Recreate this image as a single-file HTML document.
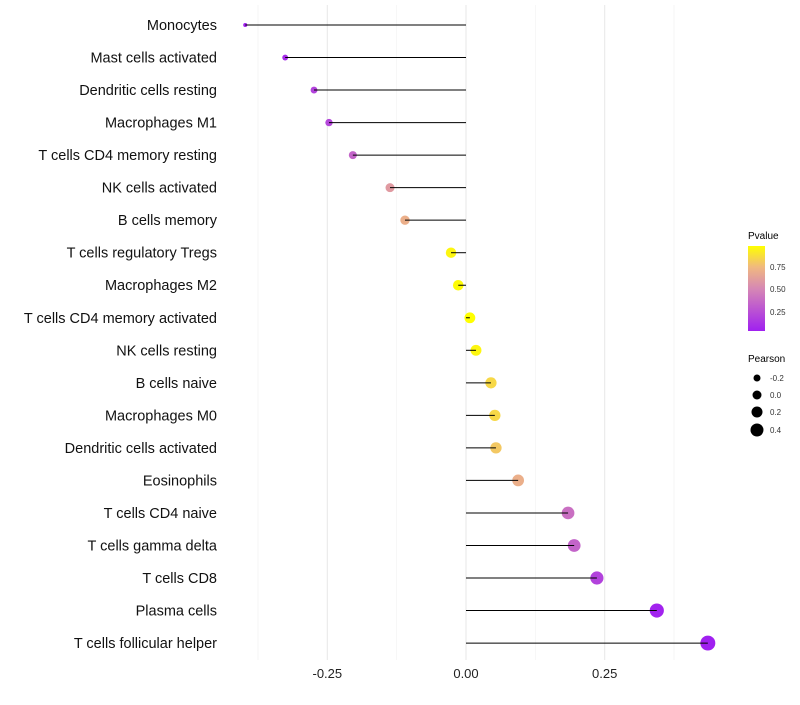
<!DOCTYPE html>
<html><head><meta charset="utf-8"><style>
body{margin:0;background:#fff;font-family:"Liberation Sans",sans-serif}
</style></head><body>
<svg id="c" width="800" height="700" xmlns="http://www.w3.org/2000/svg">
<defs><linearGradient id="pg" x1="0" y1="1" x2="0" y2="0">
<stop offset="0" stop-color="#A020F0"/><stop offset="0.5" stop-color="#D688B4"/><stop offset="0.75" stop-color="#F0B880"/><stop offset="1" stop-color="#FFFF00"/></linearGradient></defs>
<g id="grid"></g><g id="dots"></g><g id="marks"></g><g id="labels"></g>
<g>
<text x="748" y="239" font-size="10" fill="#000">Pvalue</text>
<rect x="748" y="246" width="17" height="85" fill="url(#pg)"/>
<text x="770" y="270" font-size="8" fill="#333">0.75</text>
<text x="770" y="292" font-size="8" fill="#333">0.50</text>
<text x="770" y="315" font-size="8" fill="#333">0.25</text>
</g>
<g>
<text x="748" y="362" font-size="10" fill="#000">Pearson</text>
<circle cx="757" cy="378" r="3.5"/><text x="770" y="381" font-size="8" fill="#333">-0.2</text>
<circle cx="757" cy="395" r="4.5"/><text x="770" y="398" font-size="8" fill="#333">0.0</text>
<circle cx="757" cy="412" r="5.5"/><text x="770" y="415" font-size="8" fill="#333">0.2</text>
<circle cx="757" cy="430" r="6.5"/><text x="770" y="433" font-size="8" fill="#333">0.4</text>
</g>
</svg>
<script>
const categories=["Monocytes","Mast cells activated","Dendritic cells resting","Macrophages M1","T cells CD4 memory resting","NK cells activated","B cells memory","T cells regulatory  Tregs","Macrophages M2","T cells CD4 memory activated","NK cells resting","B cells naive","Macrophages M0","Dendritic cells activated","Eosinophils","T cells CD4 naive","T cells gamma delta","T cells CD8","Plasma cells","T cells follicular helper"];
const pearson=[-0.398,-0.326,-0.274,-0.247,-0.204,-0.137,-0.110,-0.027,-0.014,0.007,0.018,0.045,0.052,0.054,0.094,0.184,0.195,0.236,0.344,0.436];
const pvalue=[0.05,0.1,0.2,0.22,0.35,0.6,0.7,0.95,0.97,0.98,0.95,0.85,0.85,0.8,0.7,0.4,0.35,0.2,0.06,0.02];
const ticks=[-0.25,0,0.25];
const tickLabels=["-0.25","0.00","0.25"];
const NS="http://www.w3.org/2000/svg";
const x=v=>466+v*554.67;
const y=i=>25+i*32.53;
function el(t,a,p){const e=document.createElementNS(NS,t);for(const k in a)e.setAttribute(k,a[k]);document.getElementById(p).appendChild(e);return e;}
function lerp(a,b,t){return a.map((v,i)=>Math.round(v+(b[i]-v)*t));}
function col(p){const s=[[0,[160,32,240]],[0.5,[214,136,180]],[0.75,[240,184,128]],[1,[255,255,0]]];
 const t=Math.max(0,Math.min(1,(p-0.045)/0.935));
 for(let i=1;i<s.length;i++)if(t<=s[i][0]){const c=lerp(s[i-1][1],s[i][1],(t-s[i-1][0])/(s[i][0]-s[i-1][0]));return `rgb(${c})`;}
 return "rgb(255,255,0)";}
[-0.375,-0.125,0.125,0.375].forEach(v=>{const g=el("line",{x1:x(v),x2:x(v),y1:5,y2:660,stroke:"#f3f3f3","stroke-width":0.7},"grid");

});
ticks.forEach((v,i)=>{const g=el("line",{x1:x(v),x2:x(v),y1:5,y2:660,stroke:"#ebebeb","stroke-width":1.2},"grid");


const t=el("text",{x:x(v),y:678,"text-anchor":"middle","font-size":13,fill:"#222"},"labels");t.textContent=tickLabels[i];

});
categories.forEach((c,i)=>{
const t=el("text",{x:217,y:y(i)+5,"text-anchor":"end","font-size":14.5,fill:"#111"},"labels");t.textContent=c;


const d=el("circle",{cx:x(pearson[i]),cy:y(i),r:Math.sqrt(Math.max(2,28.8+61.9*pearson[i])),fill:col(pvalue[i])},"dots");


const l=el("line",{x1:x(0),x2:x(pearson[i]),y1:y(i),y2:y(i),stroke:"#000","stroke-width":1},"marks");


});
</script>
</body></html>
